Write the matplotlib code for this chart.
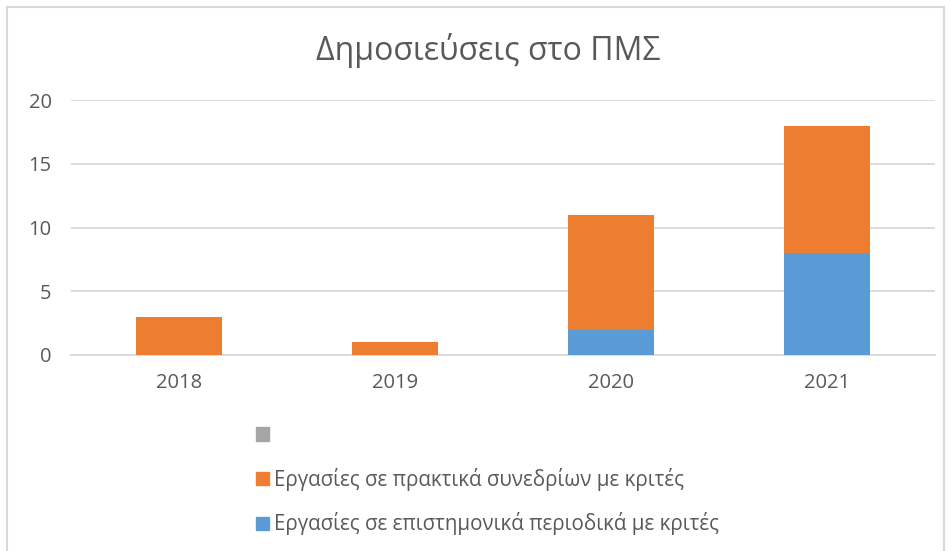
import matplotlib.pyplot as plt
from matplotlib.patches import Patch, Rectangle

# Data
years = ["2018", "2019", "2020", "2021"]
journals = [0, 0, 2, 8]        # Εργασίες σε επιστημονικά περιοδικά με κριτές
conferences = [3, 1, 9, 10]    # Εργασίες σε πρακτικά συνεδρίων με κριτές
unnamed = [0, 0, 0, 0]         # empty third series (gray, no label)

label_journals = "Εργασίες σε επιστημονικά περιοδικά με κριτές"
label_conf = "Εργασίες σε πρακτικά συνεδρίων με κριτές"

blue = "#5B9BD5"
orange = "#ED7D31"
gray = "#A5A5A5"
text_col = "#595959"
grid_col = "#D9D9D9"

plt.rcParams['font.family'] = ['Open Sans', 'DejaVu Sans']

fig = plt.figure(figsize=(9.51, 5.51), dpi=100)
ax = fig.add_axes([71 / 951, 1 - 355 / 551, 864 / 951, 255 / 551])

x = list(range(len(years)))
w = 0.4
ax.bar(x, journals, width=w, color=blue, zorder=3)
ax.bar(x, conferences, width=w, bottom=journals, color=orange, zorder=3)
top = [a + b for a, b in zip(journals, conferences)]
ax.bar(x, unnamed, width=w, bottom=top, color=gray, zorder=3)

ax.set_xlim(-0.5, len(years) - 0.5)
ax.set_ylim(0, 20)
ax.set_yticks([0, 5, 10, 15, 20])
ax.set_xticks(x)
ax.set_xticklabels(years)
ax.tick_params(length=0, labelsize=14.5, colors=text_col)
ax.tick_params(axis='y', pad=14)
ax.tick_params(axis='x', pad=13)
ax.grid(axis='y', color=grid_col, linewidth=1.3, zorder=0)
for side in ['left', 'right', 'top']:
    ax.spines[side].set_visible(False)
ax.spines['bottom'].set_color(grid_col)
ax.spines['bottom'].set_linewidth(1.3)

fig.text(488 / 951, 1 - 50 / 551, "Δημοσιεύσεις στο ΠΜΣ", ha='center', va='center',
         fontsize=23, color=text_col)

# legend at the bottom, one entry per row
handles = [Patch(color=gray, label=""),
           Patch(color=orange, label=label_conf),
           Patch(color=blue, label=label_journals)]
fig.legend(handles=handles, loc='upper left', bbox_to_anchor=(246 / 951, 1 - 415 / 551),
           frameon=False, fontsize=14.8, labelcolor=text_col, handlelength=0.62,
           handleheight=0.62, handletextpad=0.22, labelspacing=1.05, borderpad=0)

# chart border
fig.patches.append(Rectangle((7 / 951, -0.05), 937 / 951, 1 - 7 / 551 + 0.05,
                             transform=fig.transFigure, fill=False,
                             edgecolor='#D9D9D9', linewidth=1.5))

fig.savefig("out.png", dpi=100)
